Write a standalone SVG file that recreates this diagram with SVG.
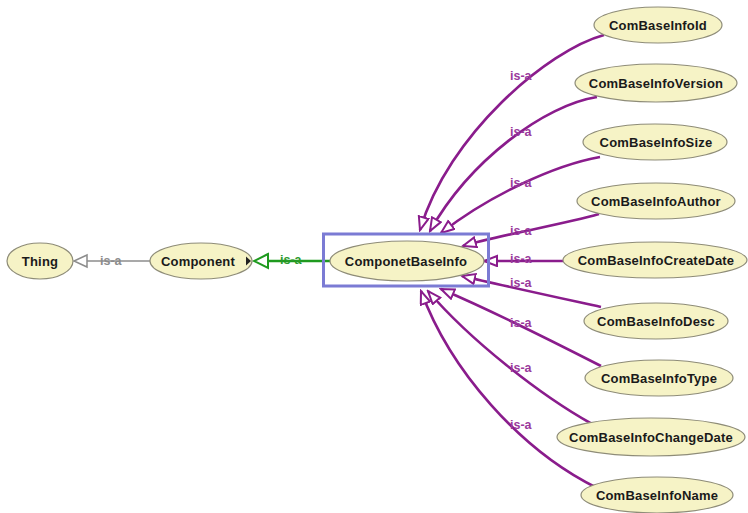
<svg xmlns="http://www.w3.org/2000/svg" width="748" height="513" viewBox="0 0 748 513">
  <style>
    .node ellipse { fill: #f6f3c6; stroke: #8e8c78; stroke-width: 1.2; }
    .node text { font-family: "Liberation Sans", Arial, sans-serif; font-weight: bold; font-size: 13px; letter-spacing: 0.2px; fill: #1a1a1a; text-anchor: middle; dominant-baseline: central; }
    .isa { fill: none; stroke: #8a1c8c; stroke-width: 2.6; marker-end: url(#triPurple); }
    .lbl { font-family: "Liberation Sans", Arial, sans-serif; font-weight: bold; font-size: 12.5px; }
    .lbl-p { fill: #9a3a9c; }
  </style>
  <defs>
    <marker id="triPurple" markerUnits="userSpaceOnUse" markerWidth="16" markerHeight="14" refX="14" refY="6" orient="auto">
      <path d="M1,1 L14,6 L1,11 Z" fill="#ffffff" stroke="#8a1c8c" stroke-width="2"/>
    </marker>
  </defs>

  <rect width="748" height="513" fill="#ffffff"/>

  <!-- connectors -->
  <g id="connectors">
    <!-- Component is-a Thing -->
    <line x1="150" y1="261" x2="87" y2="261" stroke="#8c8c8c" stroke-width="1.6"/>
    <path d="M87,255 L74,261 L87,267 Z" fill="#ffffff" stroke="#8c8c8c" stroke-width="1.5"/>
    <text class="lbl" x="100" y="265" fill="#8c8c8c">is-a</text>

    <!-- ComponetBaseInfo is-a Component -->
    <line x1="330" y1="261" x2="267" y2="261" stroke="#1f9a1f" stroke-width="2.4"/>
    <path d="M268,254 L254,261 L268,268 Z" fill="#ffffff" stroke="#1f9a1f" stroke-width="2"/>
    <text class="lbl" x="280" y="264" fill="#2a9a2a">is-a</text>

    <!-- children is-a ComponetBaseInfo -->
    <path class="isa" d="M604,35 C548,50 448,135 420,230"/>
    <path class="isa" d="M597,97 C545,105 470,160 430,231"/>
    <path class="isa" d="M600,157 C555,165 490,195 441,233"/>
    <path class="isa" d="M599,214 C560,225 500,235 463,246"/>
    <path class="isa" d="M563,261 L484,261"/>
    <path class="isa" d="M601,307 C560,298 500,285 462,276"/>
    <path class="isa" d="M601,366 C560,345 490,310 441,289"/>
    <path class="isa" d="M592,424 C540,395 470,340 428,291"/>
    <path class="isa" d="M597,488 C520,450 450,370 421,291"/>

    <text class="lbl lbl-p" x="510" y="80">is-a</text>
    <text class="lbl lbl-p" x="510" y="136">is-a</text>
    <text class="lbl lbl-p" x="510" y="187">is-a</text>
    <text class="lbl lbl-p" x="510" y="235">is-a</text>
    <text class="lbl lbl-p" x="510" y="263">is-a</text>
    <text class="lbl lbl-p" x="510" y="287">is-a</text>
    <text class="lbl lbl-p" x="510" y="327">is-a</text>
    <text class="lbl lbl-p" x="510" y="372">is-a</text>
    <text class="lbl lbl-p" x="510" y="429">is-a</text>
  </g>

  <!-- nodes -->
  <g id="Thing" class="node">
    <ellipse cx="40" cy="261" rx="33" ry="18"/>
    <text x="40" y="261">Thing</text>
  </g>
  <g id="Component" class="node">
    <ellipse cx="201" cy="261" rx="51" ry="18"/>
    <text x="198" y="261">Component</text>
    <path d="M246,256.5 L251,261 L246,265.5 Z" fill="#222222"/>
  </g>
  <g id="ComponetBaseInfo" class="node">
    <ellipse cx="407" cy="261" rx="77" ry="20"/>
    <text x="406" y="261">ComponetBaseInfo</text>
  </g>
  <g id="ComBaseInfoId" class="node">
    <ellipse cx="658" cy="25" rx="64" ry="18"/>
    <text x="658" y="25">ComBaseInfoId</text>
  </g>
  <g id="ComBaseInfoVersion" class="node">
    <ellipse cx="656" cy="83" rx="81" ry="19"/>
    <text x="656" y="83">ComBaseInfoVersion</text>
  </g>
  <g id="ComBaseInfoSize" class="node">
    <ellipse cx="655" cy="142" rx="72" ry="18"/>
    <text x="656" y="142">ComBaseInfoSize</text>
  </g>
  <g id="ComBaseInfoAuthor" class="node">
    <ellipse cx="656" cy="201" rx="79" ry="18"/>
    <text x="656" y="201">ComBaseInfoAuthor</text>
  </g>
  <g id="ComBaseInfoCreateDate" class="node">
    <ellipse cx="655" cy="260" rx="92" ry="18"/>
    <text x="656" y="260">ComBaseInfoCreateDate</text>
  </g>
  <g id="ComBaseInfoDesc" class="node">
    <ellipse cx="656" cy="321" rx="72" ry="18"/>
    <text x="656" y="321">ComBaseInfoDesc</text>
  </g>
  <g id="ComBaseInfoType" class="node">
    <ellipse cx="659" cy="378" rx="74" ry="18"/>
    <text x="659" y="378">ComBaseInfoType</text>
  </g>
  <g id="ComBaseInfoChangeDate" class="node">
    <ellipse cx="651" cy="437" rx="94" ry="19"/>
    <text x="651" y="437">ComBaseInfoChangeDate</text>
  </g>
  <g id="ComBaseInfoName" class="node">
    <ellipse cx="657" cy="495" rx="76" ry="18"/>
    <text x="657" y="495">ComBaseInfoName</text>
  </g>

  <!-- selection frame around the focused class -->
  <g id="selection">
    <rect x="323.5" y="234" width="165" height="52" fill="none" stroke="#7b7bd4" stroke-width="3"/>
  </g>
</svg>
